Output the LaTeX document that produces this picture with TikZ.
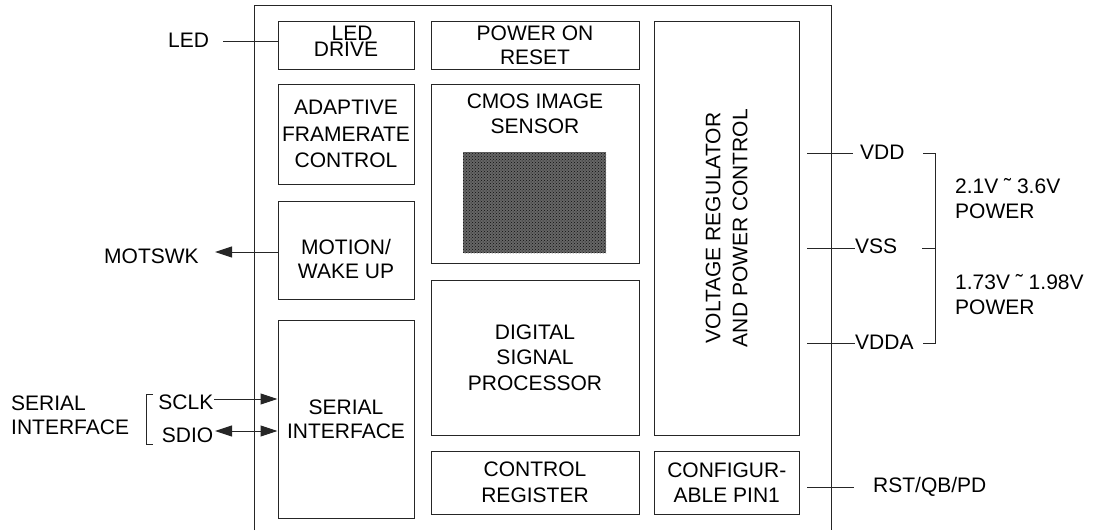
\documentclass[tikz,border=0pt]{standalone}
\usepackage{fontspec}
\setmainfont{Liberation Sans}
\usetikzlibrary{arrows.meta,patterns}
\begin{document}
\begin{tikzpicture}[x=1pt,y=-1pt,
  every node/.style={font=\fontsize{21}{25.5}\selectfont},
  ln/.style={draw=black!85,line width=1pt},
  blk/.style={ln, rectangle, inner sep=0pt, align=center},
  lbl/.style={inner sep=0pt},
  arr/.style={ln,-{Triangle[length=17pt,width=11pt]}},
  dbl/.style={ln,{Triangle[length=17pt,width=11pt]}-{Triangle[length=17pt,width=11pt]}}]
\useasboundingbox (0,0) rectangle (1094,530);

% chip outline
\coordinate (chipbl) at (254,530);
\coordinate (chiptl) at (254,5);
\coordinate (chiptr) at (831,5);
\coordinate (chipbr) at (831,530);
\draw[ln] (chipbl) -- (chiptl) -- (chiptr) -- (chipbr);

% blocks
\node[blk, minimum width=136pt, minimum height=48pt] (leddrive) at (346,45)
  {\hspace*{12pt}LED\\[-9.5pt]DRIVE\rule[-8pt]{0pt}{8pt}};
\node[blk, minimum width=208pt, minimum height=48pt] (por) at (535,45)
  {POWER ON\\[-1.5pt]RESET};
\node[blk, minimum width=136pt, minimum height=100pt] (adaptive) at (346,134)
  {ADAPTIVE\\[1pt]FRAMERATE\\[1pt]CONTROL};
\node[blk, minimum width=208pt, minimum height=179pt] (cmos) at (535,173.5) {};
\node[lbl, align=center] (cmostxt) at (535,113.5) {CMOS IMAGE\\[-0.5pt]SENSOR};
\fill[black!60] (463,152) rectangle (606,253);
\fill[pattern=crosshatch dots, pattern color=black!95] (463,152) rectangle (606,253);
\node[blk, minimum width=136pt, minimum height=98pt] (motion) at (346,250)
  {\rule{0pt}{33pt}MOTION/\\[-1.5pt]WAKE UP};
\node[blk, minimum width=136pt, minimum height=198pt] (serial) at (346,419)
  {SERIAL\\[-1.5pt]INTERFACE};
\node[blk, minimum width=208pt, minimum height=155pt] (dsp) at (535,357.5)
  {DIGITAL\\SIGNAL\\PROCESSOR};
\node[blk, minimum width=208pt, minimum height=63pt] (ctrl) at (535,482.5)
  {CONTROL\\REGISTER};
\node[blk, minimum width=144.5pt, minimum height=63pt] (config) at (726.75,482.5)
  {CONFIGUR-\\ABLE PIN1};
\node[blk, rotate=90, minimum width=414pt, minimum height=144.5pt] (vr) at (726.75,228)
  {VOLTAGE REGULATOR\\[1.5pt]AND POWER CONTROL};

% left labels and pins
\node[lbl, anchor=west] (ledlbl) at (168,40) {LED};
\coordinate (ledpin) at (223,41);
\draw[ln] (ledpin) -- (ledpin -| leddrive.west);

\node[lbl, anchor=west] (motlbl) at (104,256) {MOTSWK};
\coordinate (motpin) at (215,252);
\draw[arr] (motpin -| motion.west) -- (motpin);

\node[lbl, anchor=west, align=left] (serlbl) at (11,415) {SERIAL\\[-1.5pt]INTERFACE};
\node[lbl, anchor=east] (sclk) at (213.5,402.5) {SCLK};
\node[lbl, anchor=east] (sdio) at (213.5,435) {SDIO};
\coordinate (sclkpin) at (214,399);
\coordinate (sdiopin) at (215,431);
\draw[arr] (sclkpin) -- (sclkpin -| serial.west);
\draw[dbl] (sdiopin) -- (sdiopin -| serial.west);
\coordinate (lbt) at (153,394);
\coordinate (lbb) at (153,444);
\draw[ln] (lbt) -- ++(-7,0) -- ++(0,50) -- (lbb);

% right labels and pins
\node[lbl, anchor=west] (vdd) at (860,152.5) {VDD};
\node[lbl, anchor=west] (vss) at (855,246) {VSS};
\node[lbl, anchor=west] (vdda) at (855,342) {VDDA};
\coordinate (vddin) at (807,153);
\coordinate (vddout) at (853,153);
\coordinate (vssin) at (807,248);
\coordinate (vssout) at (855,248);
\coordinate (vddain) at (807,343);
\coordinate (vddaout) at (855,343);
\draw[ln] (vddin) -- (vddout);
\draw[ln] (vssin) -- (vssout);
\draw[ln] (vddain) -- (vddaout);

\coordinate (rbt) at (923,153);
\coordinate (rbm) at (922,248);
\coordinate (rbb) at (923,343);
\draw[ln] (rbt) -- (935,153) -- (935,343) -- (rbb);
\draw[ln] (rbm) -- (935,248);

\node[lbl, anchor=west, align=left] (pw1) at (955,199) {2.1V ˜ 3.6V\\[-0.5pt]POWER};
\node[lbl, anchor=west, align=left] (pw2) at (955,294.5) {1.73V ˜ 1.98V\\[-0.5pt]POWER};

\node[lbl, anchor=west] (rst) at (873,487) {RST/QB/PD};
\coordinate (rstin) at (807,487);
\coordinate (rstout) at (854,487);
\draw[ln] (rstin) -- (rstout);
\end{tikzpicture}
\end{document}
